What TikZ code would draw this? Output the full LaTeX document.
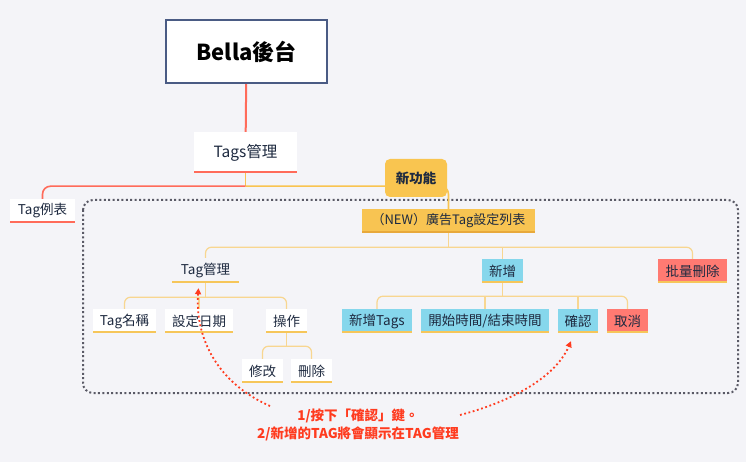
\documentclass[tikz,border=0pt]{standalone}
\usepackage{fontspec}
\setmainfont{Noto Sans CJK TC}
\usetikzlibrary{arrows.meta,backgrounds,calc}
\definecolor{bg}{HTML}{F4F4F8}
\definecolor{ink}{HTML}{1E2A40}
\definecolor{boxblue}{HTML}{4A5B84}
\definecolor{coral}{HTML}{FF6B5A}
\definecolor{mainY}{HTML}{F9C450}
\definecolor{twigY}{HTML}{F8D690}
\definecolor{lineY}{HTML}{F6C65A}
\definecolor{featY}{HTML}{F9C550}
\definecolor{newY}{HTML}{F8C452}
\definecolor{newYd}{HTML}{E8A93B}
\definecolor{skyB}{HTML}{86D7EC}
\definecolor{salmon}{HTML}{FF7A72}
\definecolor{hintred}{HTML}{FF3B1F}
\definecolor{dotgray}{HTML}{5A5A66}
\begin{document}
\begin{tikzpicture}[x=1pt,y=-1pt,
  topic/.style={inner sep=0pt,minimum height=24pt,text=ink,font=\fontsize{13.5}{15}\selectfont},
  uline/.style={path picture={\fill[#1] ([yshift=2pt]path picture bounding box.south west) rectangle (path picture bounding box.south east);}},
  leaf/.style={topic,fill=white,uline=lineY},
  bluetopic/.style={topic,fill=skyB,uline=lineY},
  redtopic/.style={topic,fill=salmon,uline=lineY},
  twig/.style={draw=twigY,line width=1.2pt,rounded corners=6pt},
  mainred/.style={draw=coral,line width=1.6pt,rounded corners=8pt},
  mainyel/.style={draw=mainY,line width=1.6pt,rounded corners=8pt},
  hint/.style={draw=hintred,line width=1.8pt,dash pattern=on 1.8pt off 2.6pt,-{Triangle[length=6pt,width=6pt]}}]
  \useasboundingbox (0,0) rectangle (746,462);

  % topics
  \node[draw=boxblue,line width=1.5pt,fill=white,minimum width=161pt,minimum height=63pt,inner sep=0pt,
        font=\fontsize{22}{24}\selectfont\bfseries] (root) at (246.5,51.5) {Bella後台};
  \node[topic,fill=white,uline=coral,minimum width=103pt,minimum height=41pt,font=\fontsize{15.5}{17}\selectfont] (tags) at (245.5,152.5) {Tags管理};
  \node[topic,fill=white,uline=coral,minimum width=65pt] (taglist) at (42.5,211) {Tag例表};
  \node[topic,fill=newY,uline=newYd,minimum width=173pt,font=\fontsize{13}{15}\selectfont] (adlist) at (448.5,221) {（NEW）廣告Tag設定列表};
  \node[topic,uline=lineY,minimum width=67pt,minimum height=25pt] (tagmgr) at (205.5,270.5) {Tag管理};
  \node[bluetopic,minimum width=41pt] (add) at (502.5,271) {新增};
  \node[redtopic,minimum width=69pt] (bulkdel) at (692.5,271) {批量刪除};
  \node[leaf,minimum width=63pt] (tagname) at (124.5,321) {Tag名稱};
  \node[leaf,minimum width=68pt] (setdate) at (199,321) {設定日期};
  \node[leaf,minimum width=41pt] (ops) at (286.5,321) {操作};
  \node[leaf,minimum width=41pt] (edit) at (262.5,371) {修改};
  \node[leaf,minimum width=41pt] (delete) at (311.5,371) {刪除};
  \node[bluetopic,minimum width=70pt] (addtags) at (377,321) {新增Tags};
  \node[bluetopic,minimum width=128pt] (period) at (485,321) {開始時間/結束時間};
  \node[bluetopic,minimum width=40pt] (confirm) at (578,321) {確認};
  \node[redtopic,minimum width=41pt] (cancel) at (627.5,321) {取消};
  \node[font=\fontsize{13.5}{18}\selectfont\bfseries,text=hintred,align=center,inner sep=0pt] (note) at (358,425)
    {1/按下「確認」鍵。\\2/新增的TAG將會顯示在TAG管理};

  % junctions
  \coordinate (jtags) at ([yshift=-13pt]tags.south);
  \coordinate (jad) at ([yshift=-14pt]adlist.south);
  \coordinate (jmgr) at ([yshift=-14pt]tagmgr.south);
  \coordinate (jadd) at ([yshift=-13pt]add.south);
  \coordinate (jops) at ([yshift=-13pt]ops.south);

  \begin{scope}[on background layer]
    \fill[bg] (0,0) rectangle (746,462);
    \draw[dotgray,line width=2pt,dash pattern=on 2pt off 2.4pt,rounded corners=10pt] (83,200) rectangle (738,393);
    \draw[coral,line width=2pt] (root) -- (tags);
    \draw[mainyel] (tags.south) -- (jtags);
    \draw[mainred] (jtags) -- (taglist.north |- jtags) -- (taglist.north);
    \draw[mainyel] (jtags) -- (adlist.north |- jtags) -- (adlist.north);
    % (NEW) list
    \draw[twig] (adlist.south) -- (jad);
    \draw[twig] (tagmgr.north) -- (tagmgr.north |- jad) -- (bulkdel.north |- jad) -- (bulkdel.north);
    \draw[twig] (add.north) -- (add.north |- jad);
    % Tag管理
    \draw[twig] (tagmgr.south) -- (jmgr);
    \draw[twig] (tagname.north) -- (tagname.north |- jmgr) -- (ops.north |- jmgr) -- (ops.north);
    \draw[twig] (setdate.north) -- (setdate.north |- jmgr);
    \draw[twig] (ops.south) -- (jops);
    \draw[twig] (edit.north) -- (edit.north |- jops) -- (delete.north |- jops) -- (delete.north);
    % 新增
    \draw[twig] (add.south) -- (jadd);
    \draw[twig] (addtags.north) -- (addtags.north |- jadd) -- (cancel.north |- jadd) -- (cancel.north);
    \draw[twig] (period.north) -- (period.north |- jadd);
    \draw[twig] (confirm.north) -- (confirm.north |- jadd);
  \end{scope}

  \node[topic,fill=featY,rounded corners=5pt,minimum width=62pt,minimum height=38pt,
        font=\fontsize{13.5}{15}\selectfont\bfseries] (feat) at (416,178) {新功能};

  % hints
  \coordinate (h1) at (270,406);
  \coordinate (h2) at (460,415);
  \draw[hint] (h1) .. controls (215,382) and (195,335) .. ([xshift=-7pt,yshift=-5pt]tagmgr.south);
  \draw[hint] (h2) .. controls (510,402) and (555,378) .. ([xshift=-7pt,yshift=-8pt]confirm.south);
\end{tikzpicture}
\end{document}
